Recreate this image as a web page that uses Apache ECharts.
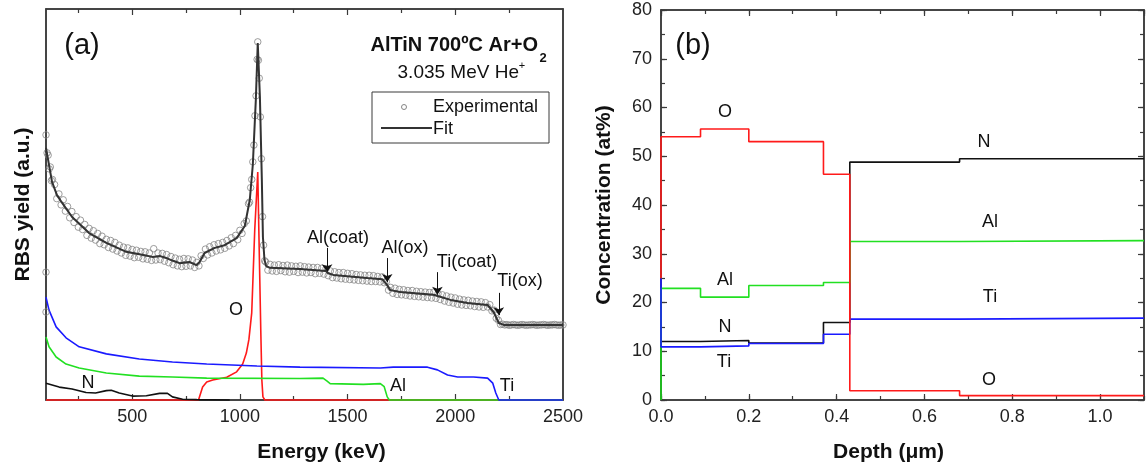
<!DOCTYPE html>
<html>
<head>
<meta charset="utf-8">
<script src="https://cdn.jsdelivr.net/npm/echarts@6/dist/echarts.min.js"></script>
<style>
html,body{margin:0;padding:0;background:#fff}
#main{width:1146px;height:468px}
</style>
</head>
<body>
<div id="main"></div>
<script>
// ---- (a) RBS spectrum: energy (keV), yield (a.u.) ----
var experimental = [
 [100,67.8],[100,32.7],[100,22.5],[105,63.2],[110,62.6],[115,59.1],[120,59.6],[125,56.1],[130,56.4],[140,55.1],
 [150,51.5],[160,52.7],[170,49.9],[180,51.2],[190,48.3],[200,49.5],[210,46.6],[220,48.2],[230,45.4],[240,46.9],
 [250,44.2],[260,46.0],[270,43.6],[280,44.9],[290,42.1],[300,43.9],[310,41.4],[320,43.3],[330,40.9],[340,42.6],
 [350,40.0],[360,41.9],[370,39.7],[380,41.1],[390,39.0],[400,40.8],[410,38.6],[420,40.3],[430,38.1],[440,39.6],
 [450,37.6],[460,39.1],[470,37.0],[480,38.9],[490,36.8],[500,38.5],[510,36.4],[520,38.3],[530,36.5],[540,38.0],
 [550,36.1],[560,37.9],[570,36.0],[580,37.6],[590,35.7],[600,38.7],[610,35.8],[620,37.6],[630,35.9],[640,37.5],
 [650,35.5],[660,37.2],[670,35.1],[680,36.7],[690,34.6],[700,36.3],[710,34.3],[720,36.0],[730,34.1],[740,36.2],
 [750,34.2],[760,36.1],[770,34.3],[780,35.8],[790,33.9],[800,35.2],[810,34.3],[820,36.9],[830,36.2],[840,38.6],
 [850,37.1],[860,39.2],[870,37.6],[880,39.7],[890,38.1],[900,40.0],[910,38.4],[920,40.3],[930,38.8],[940,40.8],
 [950,39.4],[960,41.5],[970,40.0],[980,42.1],[990,41.0],[1000,43.4],[1010,42.6],[1020,45.1],[1030,45.8],[1040,50.2],
 [1045,50.6],[1050,54.3],[1055,56.4],[1060,60.9],[1065,65.2],[1070,72.7],[1075,77.8],[1080,87.1],[1083,91.6],[1086,86.9],
 [1090,82.3],[1095,72.4],[1100,61.7],[1105,46.9],[1110,39.6],[1115,35.6],[1120,35.3],[1130,33.2],[1140,34.7],[1150,33.0],
 [1160,34.5],[1170,32.9],[1180,34.6],[1190,33.1],[1200,34.4],[1210,32.8],[1220,34.5],[1230,32.7],[1240,34.3],[1250,32.9],
 [1260,34.2],[1270,32.6],[1280,34.3],[1290,32.7],[1300,34.1],[1310,32.5],[1320,34.0],[1330,32.6],[1340,33.9],[1350,32.3],
 [1360,33.9],[1370,32.4],[1380,33.7],[1390,32.2],[1400,33.6],[1410,31.8],[1420,33.0],[1430,31.3],[1440,32.8],[1450,31.2],
 [1460,32.6],[1470,31.0],[1480,32.6],[1490,30.9],[1500,32.4],[1510,30.8],[1520,32.3],[1530,30.7],[1540,32.1],[1550,30.6],
 [1560,32.0],[1570,30.5],[1580,31.9],[1590,30.4],[1600,31.9],[1610,30.3],[1620,31.8],[1630,30.3],[1640,31.6],[1650,30.2],
 [1660,31.5],[1670,30.0],[1680,30.3],[1690,28.1],[1700,28.8],[1710,27.3],[1720,28.6],[1730,27.0],[1740,28.3],[1750,26.9],
 [1760,28.2],[1770,26.8],[1780,28.0],[1790,26.6],[1800,28.0],[1810,26.5],[1820,27.8],[1830,26.4],[1840,27.7],[1850,26.3],
 [1860,27.6],[1870,26.2],[1880,27.5],[1890,26.1],[1900,27.6],[1910,26.0],[1920,27.2],[1930,25.7],[1940,26.9],[1950,25.3],
 [1960,26.6],[1970,25.0],[1980,26.3],[1990,24.8],[2000,26.1],[2010,24.5],[2020,25.8],[2030,24.3],[2040,25.6],[2050,24.2],
 [2060,25.5],[2070,24.1],[2080,25.3],[2090,23.9],[2100,25.2],[2110,23.8],[2120,25.1],[2130,23.7],[2140,24.9],[2150,23.8],
 [2160,24.4],[2170,22.8],[2180,23.0],[2190,20.9],[2200,20.4],[2210,19.3],[2220,19.4],[2230,19.2],[2240,19.3],[2250,19.1],
 [2260,19.2],[2270,19.3],[2280,19.2],[2290,19.1],[2300,19.2],[2310,19.3],[2320,19.2],[2330,19.1],[2340,19.2],[2350,19.2],
 [2360,19.3],[2370,19.2],[2380,19.1],[2390,19.2],[2400,19.2],[2410,19.3],[2420,19.2],[2430,19.1],[2440,19.2],[2450,19.2],
 [2460,19.3],[2470,19.2],[2480,19.1],[2490,19.2],[2500,19.2]
];
var fit = [
 [100,64.5],[114,60.1],[128,55.8],[151,52.4],[175,50.4],[221,46.8],[300,42.7],[380,40.2],[473,37.9],[540,37.2],
 [594,36.6],[630,36.8],[659,36.3],[690,35.6],[720,35.0],[766,35.3],[799,34.5],[813,35.3],[836,37.6],[883,38.9],
 [929,39.6],[985,41.4],[1023,44.5],[1046,51.2],[1060,60.1],[1074,76.7],[1083,91.3],[1093,77.5],[1102,56.3],[1107,41.7],
 [1114,36.0],[1121,34.3],[1139,33.8],[1279,33.5],[1400,33.0],[1410,32.4],[1433,32.0],[1591,31.2],[1661,30.9],[1680,29.7],
 [1698,28.1],[1745,27.6],[1899,26.9],[1978,25.6],[2057,24.8],[2150,24.3],[2178,22.5],[2202,19.7],[2225,19.2],[2500,19.2]
];
var simO = [[100,0],[808,0],[827,3.3],[846,4.6],[874,5.1],[939,5.8],[985,7.2],[1013,9.2],[1030,12.0],[1042,15.5],
 [1055,22.3],[1069,43.5],[1083,58.3],[1088,43.5],[1097,17.9],[1102,5.1],[1107,0.8],[1116,0],[2500,0]];
var simN = [[100,4.3],[161,3.3],[221,2.8],[286,1.9],[330,1.8],[380,2.4],[403,2.5],[440,1.8],[501,1.0],[566,1.1],
 [627,1.7],[664,1.7],[687,0.8],[734,0.2],[800,0.1],[953,0]];
var simAl = [[100,16.1],[114,13.6],[147,11.0],[193,9.2],[254,8.2],[380,6.9],[533,6.1],[687,5.9],[846,5.6],[1279,5.5],
 [1386,5.6],[1405,4.8],[1419,4.2],[1573,4.0],[1652,4.2],[1670,3.4],[1684,0.8],[1694,0],[2500,0]];
var simTi = [[100,26.3],[114,23.0],[147,18.7],[193,15.9],[254,13.6],[380,11.8],[533,10.5],[687,9.7],[846,9.2],[1079,8.7],
 [1279,8.4],[1652,8.2],[1712,8.4],[1871,8.4],[1917,7.7],[1964,6.4],[2011,5.9],[2085,5.9],[2150,5.6],[2174,4.3],
 [2188,1.8],[2202,0],[2500,0]];
var energyLabels = [500, 1000, 1500, 2000, 2500];
var energyMajor = [500, 1000, 1500, 2000];
var energyMinor = [250, 750, 1250, 1750, 2250];
var edgeEnergy = [1405, 1684, 1917, 2202];
var edgeTop = [38.9, 36.3, 32.7, 27.4];
var edgeBottom = [32.7, 30.2, 26.9, 21.7];

// ---- (b) depth profile: depth (um), concentration (at%) ----
var layerEdges = [0, 0.09, 0.2, 0.37, 0.43, 0.68, 1.1];
var concO  = [54.0, 55.6, 53.0, 46.3, 1.9, 0.9];
var concN  = [12.0, 12.2, 11.7, 15.9, 48.8, 49.5];
var concAl = [22.9, 21.1, 23.5, 24.1, 32.5, 32.7];
var concTi = [10.9, 11.1, 11.6, 13.5, 16.6, 16.8];
var surfaceStart = [25, 0, 0, 25]; // O, N, Al, Ti

var FONT = "'Liberation Sans', Arial, Helvetica, sans-serif";
var AX = '#3a3a3a';
var RED = '#ff1a1a', GREEN = '#22e022', BLUE = '#1a1aff', BLACK = '#111';

function stepPoints(start, vals) {
  var pts = [[layerEdges[0], start]];
  for (var i = 0; i < vals.length; i++) {
    pts.push([layerEdges[i], vals[i]]);
    pts.push([layerEdges[i + 1], vals[i]]);
  }
  return pts;
}

function txt(x, y, s, size, extra) {
  var st = {text: s, fontFamily: FONT, fontSize: size, fill: '#111', align: 'center', verticalAlign: 'middle'};
  for (var k in (extra || {})) st[k] = extra[k];
  return {type: 'text', x: x, y: y, style: st, z: 10};
}

var arrows = [];
for (var i = 0; i < edgeEnergy.length; i++) {
  arrows.push([{coord: [edgeEnergy[i], edgeTop[i]]}, {coord: [edgeEnergy[i], edgeBottom[i]]}]);
}

function simLine(data, color, xi, yi) {
  return {type: 'line', xAxisIndex: xi, yAxisIndex: yi, data: data, showSymbol: false, symbol: 'none',
    clip: false, lineStyle: {color: color, width: 1.6}, z: 3, silent: true};
}

var tickLbl = {fontFamily: FONT, fontSize: 18, color: '#222'};
var nameStyle = {fontFamily: FONT, fontSize: 21, fontWeight: 'bold', color: '#111'};
var axLine = {show: true, onZero: false, lineStyle: {color: AX, width: 1.5}};
var noLine = {show: false, onZero: false};

// value axis helper: tick-only axes carry the inner tick marks
function ax(grid, pos, min, max, o) {
  var a = {gridIndex: grid, type: 'value', position: pos, min: min, max: max,
    splitLine: {show: false}, axisLine: o.line ? axLine : noLine,
    axisLabel: o.label ? o.label : {show: false},
    axisTick: o.tick ? {show: true, inside: true, length: o.tick, lineStyle: {color: AX, width: 1.2}} : {show: false}};
  if (o.interval) a.interval = o.interval;
  if (o.ticks) a.axisTick.customValues = o.ticks;
  if (o.name) { a.name = o.name; a.nameLocation = 'middle'; a.nameGap = o.gap; a.nameTextStyle = o.nameStyle || nameStyle; }
  return a;
}
var fmt1 = function (v) { return v.toFixed(1); };

var chart = echarts.init(document.getElementById('main'));
chart.setOption({
  animation: false,
  backgroundColor: '#fff',
  grid: [
    {left: 46, top: 9, width: 517, height: 391, outerBoundsMode: 'none', containLabel: false,
     show: true, borderColor: AX, borderWidth: 1.5, backgroundColor: 'transparent'},
    {left: 661, top: 10, width: 483, height: 390, outerBoundsMode: 'none', containLabel: false,
     show: true, borderColor: AX, borderWidth: 1.5, backgroundColor: 'transparent'}
  ],
  xAxis: [
    ax(0, 'bottom', 100, 2500, {line: true, tick: 6, ticks: energyMajor, name: 'Energy (keV)', gap: 42,
      nameStyle: Object.assign({padding: [0, 0, 0, 34]}, nameStyle),
      label: Object.assign({customValues: energyLabels, margin: 8, formatter: function (v) { return String(v); }}, tickLbl)}),
    ax(0, 'bottom', 100, 2500, {tick: 4, ticks: energyMinor}),
    ax(0, 'top', 100, 2500, {line: true, tick: 6, ticks: energyMajor}),
    ax(0, 'top', 100, 2500, {tick: 4, ticks: energyMinor}),
    ax(1, 'bottom', 0, 1.1, {line: true, tick: 6, interval: 0.2, name: 'Depth (\u03bcm)', gap: 42,
      nameStyle: Object.assign({padding: [0, 28, 0, 0]}, nameStyle),
      label: Object.assign({margin: 8, showMaxLabel: false, formatter: fmt1}, tickLbl)}),
    ax(1, 'bottom', 0, 1.1, {tick: 4, interval: 0.1}),
    ax(1, 'top', 0, 1.1, {line: true, tick: 6, interval: 0.2}),
    ax(1, 'top', 0, 1.1, {tick: 4, interval: 0.1})
  ],
  yAxis: [
    ax(0, 'left', 0, 100, {line: true, name: 'RBS yield (a.u.)', gap: 12}),
    ax(0, 'right', 0, 100, {line: true}),
    ax(1, 'left', 0, 80, {line: true, tick: 6, interval: 10, name: 'Concentration (at%)', gap: 46,
      label: Object.assign({margin: 9}, tickLbl)}),
    ax(1, 'left', 0, 80, {tick: 4, interval: 5}),
    ax(1, 'right', 0, 80, {line: true, tick: 6, interval: 10}),
    ax(1, 'right', 0, 80, {tick: 4, interval: 5})
  ],
  series: [
    simLine(simO, RED, 0, 0),
    simLine(simN, BLACK, 0, 0),
    simLine(simAl, GREEN, 0, 0),
    simLine(simTi, BLUE, 0, 0),
    {type: 'scatter', xAxisIndex: 0, yAxisIndex: 0, data: experimental, symbol: 'circle', symbolSize: 6.5,
     itemStyle: {color: 'rgba(0,0,0,0)', borderColor: '#858585', borderWidth: 1}, z: 4, silent: true, clip: false},
    {type: 'line', xAxisIndex: 0, yAxisIndex: 0, data: fit, showSymbol: false, symbol: 'none', clip: false,
     lineStyle: {color: '#333', width: 2}, z: 5, silent: true,
     markLine: {silent: true, symbol: ['none', 'arrow'], symbolSize: 8, animation: false,
       label: {show: false}, lineStyle: {color: '#111', width: 1, type: 'solid'}, emphasis: {disabled: true},
       data: arrows}},
    simLine(stepPoints(surfaceStart[1], concN), BLACK, 4, 2),
    simLine(stepPoints(surfaceStart[2], concAl), GREEN, 4, 2),
    simLine(stepPoints(surfaceStart[3], concTi), BLUE, 4, 2),
    simLine(stepPoints(surfaceStart[0], concO), RED, 4, 2)
  ],
  graphic: [
    txt(82, 46, '(a)', 29),
    txt(538, 45, 'AlTiN 700\u00baC Ar+O', 20, {align: 'right', fontWeight: 'bold'}),
    txt(543, 58, '2', 13, {fontWeight: 'bold'}),
    txt(519, 73, '3.035 MeV He', 19, {align: 'right'}),
    txt(522, 66, '+', 11),
    {type: 'rect', shape: {x: 372, y: 92, width: 177, height: 51}, style: {fill: 'none', stroke: AX, lineWidth: 1}, z: 10},
    {type: 'circle', shape: {cx: 404, cy: 107, r: 2.5}, style: {fill: 'none', stroke: '#858585', lineWidth: 1}, z: 10},
    txt(433, 107, 'Experimental', 18, {align: 'left'}),
    {type: 'line', shape: {x1: 381, y1: 128, x2: 432, y2: 128}, style: {stroke: '#333', lineWidth: 2}, z: 10},
    txt(433, 129, 'Fit', 18, {align: 'left'}),
    txt(338, 238, 'Al(coat)', 18),
    txt(405, 248, 'Al(ox)', 18),
    txt(467, 262, 'Ti(coat)', 18),
    txt(520, 281, 'Ti(ox)', 18),
    txt(236, 310, 'O', 18),
    txt(88, 383, 'N', 18),
    txt(398, 386, 'Al', 18),
    txt(507, 386, 'Ti', 18),
    txt(693, 46, '(b)', 29),
    txt(725, 112, 'O', 18),
    txt(984, 142, 'N', 18),
    txt(990, 222, 'Al', 18),
    txt(725, 280, 'Al', 18),
    txt(725, 327, 'N', 18),
    txt(724, 362, 'Ti', 18),
    txt(990, 297, 'Ti', 18),
    txt(989, 380, 'O', 18)
  ]
});
</script>
</body>
</html>
